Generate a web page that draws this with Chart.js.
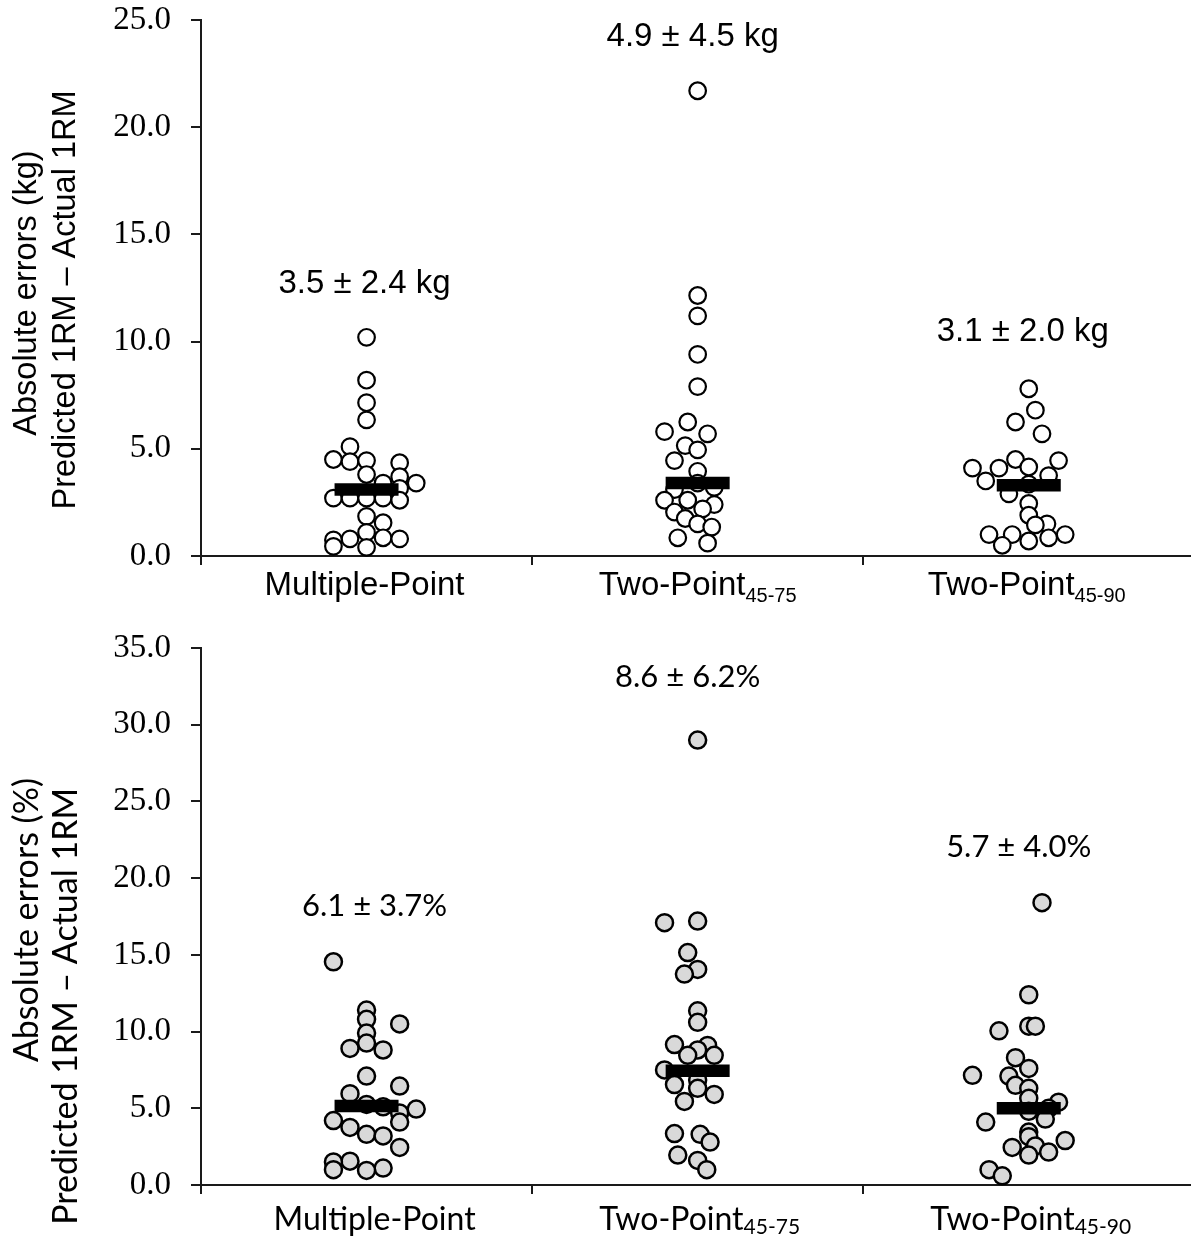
<!DOCTYPE html>
<html>
<head>
<meta charset="utf-8">
<script src="https://cdn.jsdelivr.net/npm/chart.js@4.4.0/dist/chart.umd.min.js"></script>
<style>
  body { margin: 0; background: #fff; }
  canvas { display: block; }
</style>
</head>
<body>
<canvas id="kg" width="1191" height="620"></canvas>
<canvas id="pct" width="1191" height="618"></canvas>
<script>
// categories and ticks
const categories = ['Multiple-Point', 'Two-Point', 'Two-Point'];
const categorySubscripts = ['', '45-75', '45-90'];
const kgTicks = [0, 5, 10, 15, 20, 25];
const pctTicks = [0, 5, 10, 15, 20, 25, 30, 35];

// top panel: absolute errors (kg), jitter in steps of half a marker
const kgMultiple = [10.2, 8.2, 7.15, 6.35, 5.1, 4.5, 4.4, 4.45, 4.35, 3.8, 3.4, 3.7, 3.4, 3.15,
  2.7, 2.7, 2.7, 2.7, 2.6, 1.85, 1.55, 1.1, 0.85, 0.8, 0.8, 0.75, 0.45, 0.4];
const kgMultipleJitter = [0, 0, 0, 0, -1, -2, -1, 0, 2, 0, 1, 2, 3, 2,
  -2, -1, 0, 1, 2, 0, 1, 0, 1, 2, -1, -2, -2, 0];
const kgTwo75 = [21.7, 12.15, 11.2, 9.4, 7.9, 6.25, 5.8, 5.7, 5.15, 4.95, 4.45, 3.95, 3.4, 3.2,
  3.1, 2.6, 2.6, 2.4, 2.2, 2.05, 1.75, 1.5, 1.35, 0.85, 0.6];
const kgTwo75Jitter = [0, 0, 0, 0, 0, -0.6, -2, 0.6, -0.75, 0, -1.4, 0, 0, 1,
  -1.4, -2, -0.6, 1, 0.3, -1.4, -0.75, 0, 0.85, -1.2, 0.6];
const kgTwo90 = [7.8, 6.8, 6.25, 5.7, 4.5, 4.45, 4.15, 4.1, 4.1, 3.75, 3.5, 3.35, 2.9, 2.45,
  1.9, 1.5, 1.45, 1.0, 1.0, 1.0, 0.85, 0.7, 0.5];
const kgTwo90Jitter = [0, 0.4, -0.8, 0.8, -0.8, 1.8, 0, -1.8, -3.4, 1.2, -2.6, 0, -1.2, 0,
  0, 1.1, 0.4, -2.4, -1, 2.2, 1.2, 0, -1.6];
const kgMedians = [3.1, 3.4, 3.3];
const kgSummary = ['3.5 ± 2.4 kg', '4.9 ± 4.5 kg', '3.1 ± 2.0 kg'];
const kgSummaryY = [12.7, 24.2, 10.45];

// bottom panel: absolute errors (%)
const pctMultiple = [14.55, 11.4, 10.8, 10.5, 9.9, 9.25, 8.9, 8.8, 7.1, 6.45, 5.95, 5.25, 5.1,
  4.95, 4.7, 4.2, 4.1, 3.75, 3.3, 3.2, 2.45, 1.55, 1.5, 1.1, 1.0, 0.95];
const pctMultipleJitter = [-2, 0, 0, 2, 0, 0, -1, 1, 0, 2, -1, 0, 1,
  3, 2, -2, 2, -1, 0, 1, 2, -1, -2, 1, -2, 0];
const pctTwo75 = [29.0, 17.2, 17.1, 15.15, 14.05, 13.75, 11.35, 10.6, 9.15, 9.1, 8.8, 8.45, 8.45,
  7.5, 6.85, 6.55, 6.3, 5.9, 5.45, 3.35, 3.3, 2.8, 1.95, 1.6, 1.0];
const pctTwo75Jitter = [0, 0, -2, -0.6, 0, -0.8, 0, 0, -1.4, 0.6, 0, -0.6, 1,
  -2, 0, -1.4, 0, 1, -0.8, -1.4, 0.15, 0.75, -1.2, 0, 0.55];
const pctTwo90 = [18.4, 12.4, 10.35, 10.35, 10.05, 8.3, 7.6, 7.15, 7.1, 6.5, 6.3, 5.65, 5.4,
  5.0, 4.8, 4.3, 4.1, 3.45, 3.15, 2.9, 2.55, 2.45, 2.15, 1.95, 1.0, 0.6];
const pctTwo90Jitter = [0.8, 0, 0, 0.4, -1.8, -0.8, 0, -3.4, -1.2, -0.8, 0, 0, 1.8,
  1.2, 0, 1, -2.6, 0, 0, 2.2, 0.4, -1, 1.2, 0, -2.4, -1.6];
const pctMedians = [5.15, 7.45, 5.0];
const pctSummary = ['6.1 ± 3.7%', '8.6 ± 6.2%', '5.7 ± 4.0%'];
const pctSummaryY = [18.2, 33.1, 22.0];

const JITTER_STEP = 0.05; // category units per half marker

function swarm(values, jitter, cat) {
  return values.map((v, i) => ({ x: cat + jitter[i] * JITTER_STEP, y: v }));
}

// texts that Chart.js can't lay out itself (subscripts, rotated 2-line titles)
const panelText = {
  id: 'panelText',
  afterDraw(chart, args, o) {
    const ctx = chart.ctx;
    const xs = chart.scales.x, ys = chart.scales.y;
    ctx.save();
    ctx.fillStyle = '#000';
    ctx.textBaseline = 'alphabetic';
    categories.forEach((name, i) => {
      const cx = xs.getPixelForValue(i + 1) + o.labelShift[i];
      const sub = categorySubscripts[i];
      ctx.font = o.labelFont;
      const w1 = ctx.measureText(name).width;
      ctx.font = o.subFont;
      const w2 = sub ? ctx.measureText(sub).width : 0;
      const x0 = cx - (w1 + w2) / 2;
      ctx.textAlign = 'left';
      ctx.font = o.labelFont;
      ctx.fillText(name, x0, o.labelBaseline);
      if (sub) {
        ctx.font = o.subFont;
        ctx.fillText(sub, x0 + w1, o.labelBaseline + o.subDrop);
      }
    });

    ctx.font = o.summaryFont;
    ctx.textAlign = 'center';
    ctx.textBaseline = 'middle';
    o.summary.forEach((t, i) => {
      ctx.fillText(t, xs.getPixelForValue(i + 1) + o.summaryShift[i], ys.getPixelForValue(o.summaryY[i]));
    });

    o.titles.forEach(t => {
      ctx.save();
      ctx.translate(t.x, t.y);
      ctx.rotate(-Math.PI / 2);
      ctx.font = t.font;
      ctx.textAlign = t.align;
      ctx.textBaseline = 'middle';
      ctx.fillText(t.text, 0, 0);
      ctx.restore();
    });
    ctx.restore();
  }
};

function makePanel(id, cfg) {
  const axisColor = '#1a1a1a';
  const groups = cfg.groups.map((g, i) => ({
    data: swarm(g[0], g[1], i + 1),
    pointStyle: 'circle',
    pointRadius: cfg.radius,
    pointBorderWidth: cfg.border,
    pointBorderColor: '#000',
    pointBackgroundColor: cfg.fill,
    showLine: false,
    clip: false,
    order: 1
  }));
  const medians = {
    data: cfg.medians.map((m, i) => ({ x: i + 1, y: m })),
    pointStyle: 'line',
    pointRadius: 32,
    pointBorderWidth: 12.5,
    pointBorderColor: '#000',
    showLine: false,
    clip: false,
    order: 0
  };
  return new Chart(document.getElementById(id), {
    type: 'scatter',
    data: { datasets: [medians].concat(groups) },
    options: {
      responsive: false,
      animation: false,
      events: [],
      layout: { autoPadding: false, padding: { top: cfg.padTop, left: 0, right: 0, bottom: 0 } },
      plugins: { legend: { display: false }, tooltip: { enabled: false }, panelText: cfg.text },
      scales: {
        x: {
          type: 'linear', min: 0.5, max: 3.49,
          afterBuildTicks: s => { s.ticks = [0.5, 1.5, 2.5].map(v => ({ value: v })); },
          ticks: { display: false },
          grid: { drawOnChartArea: false, drawTicks: true, tickLength: 9, color: axisColor, lineWidth: 2 },
          border: { display: true, color: axisColor, width: 2 },
          afterFit: s => { s.height = cfg.xHeight; s.paddingLeft = 0; s.paddingRight = 0; }
        },
        y: {
          min: 0, max: cfg.ticks[cfg.ticks.length - 1],
          afterBuildTicks: s => { s.ticks = cfg.ticks.map(v => ({ value: v })); },
          ticks: {
            callback: v => v.toFixed(1),
            font: { family: '"Liberation Serif", "Times New Roman", serif', size: 33, lineHeight: 0.6 },
            color: '#000',
            padding: 20
          },
          grid: { drawOnChartArea: false, drawTicks: true, tickLength: 10, color: axisColor, lineWidth: 2 },
          border: { display: true, color: axisColor, width: 2 },
          afterFit: s => { s.width = 201; s.paddingTop = 0; s.paddingBottom = 0; }
        }
      }
    },
    plugins: [panelText]
  });
}

makePanel('kg', {
  groups: [[kgMultiple, kgMultipleJitter], [kgTwo75, kgTwo75Jitter], [kgTwo90, kgTwo90Jitter]],
  medians: kgMedians,
  ticks: kgTicks,
  radius: 8.3, border: 2.2, fill: '#ffffff',
  padTop: 20, xHeight: 64,
  text: {
    labelFont: '33px "Liberation Sans", Arial, sans-serif',
    subFont: '20px "Liberation Sans", Arial, sans-serif',
    labelBaseline: 595, subDrop: 7, labelShift: [-2, 0, -2],
    summaryFont: '33px "Liberation Sans", Arial, sans-serif',
    summary: kgSummary, summaryY: kgSummaryY, summaryShift: [-2, -5, -6],
    titles: [
      { text: 'Absolute errors (kg)', x: 27, y: 293, align: 'center', font: '32.5px "Liberation Sans", Arial, sans-serif' },
      { text: 'Predicted 1RM – Actual 1RM', x: 66, y: 300, align: 'center', font: '32.5px "Liberation Sans", Arial, sans-serif' }
    ]
  }
});

makePanel('pct', {
  groups: [[pctMultiple, pctMultipleJitter], [pctTwo75, pctTwo75Jitter], [pctTwo90, pctTwo90Jitter]],
  medians: pctMedians,
  ticks: pctTicks,
  radius: 8.5, border: 2.5, fill: '#d9d9d9',
  padTop: 28, xHeight: 53,
  text: {
    labelFont: '32px Lato, "Open Sans", sans-serif',
    subFont: '21px Lato, "Open Sans", sans-serif',
    labelBaseline: 610, subDrop: 4, labelShift: [8, 2, 2],
    summaryFont: '31px Lato, "Open Sans", sans-serif',
    summary: pctSummary, summaryY: pctSummaryY, summaryShift: [8, -10, -10],
    titles: [
      { text: 'Absolute errors (%)', x: 27, y: 158, align: 'right', font: '34px Lato, "Open Sans", sans-serif' },
      { text: 'Predicted 1RM – Actual 1RM', x: 66, y: 168, align: 'right', font: '34px Lato, "Open Sans", sans-serif' }
    ]
  }
});
</script>
</body>
</html>
